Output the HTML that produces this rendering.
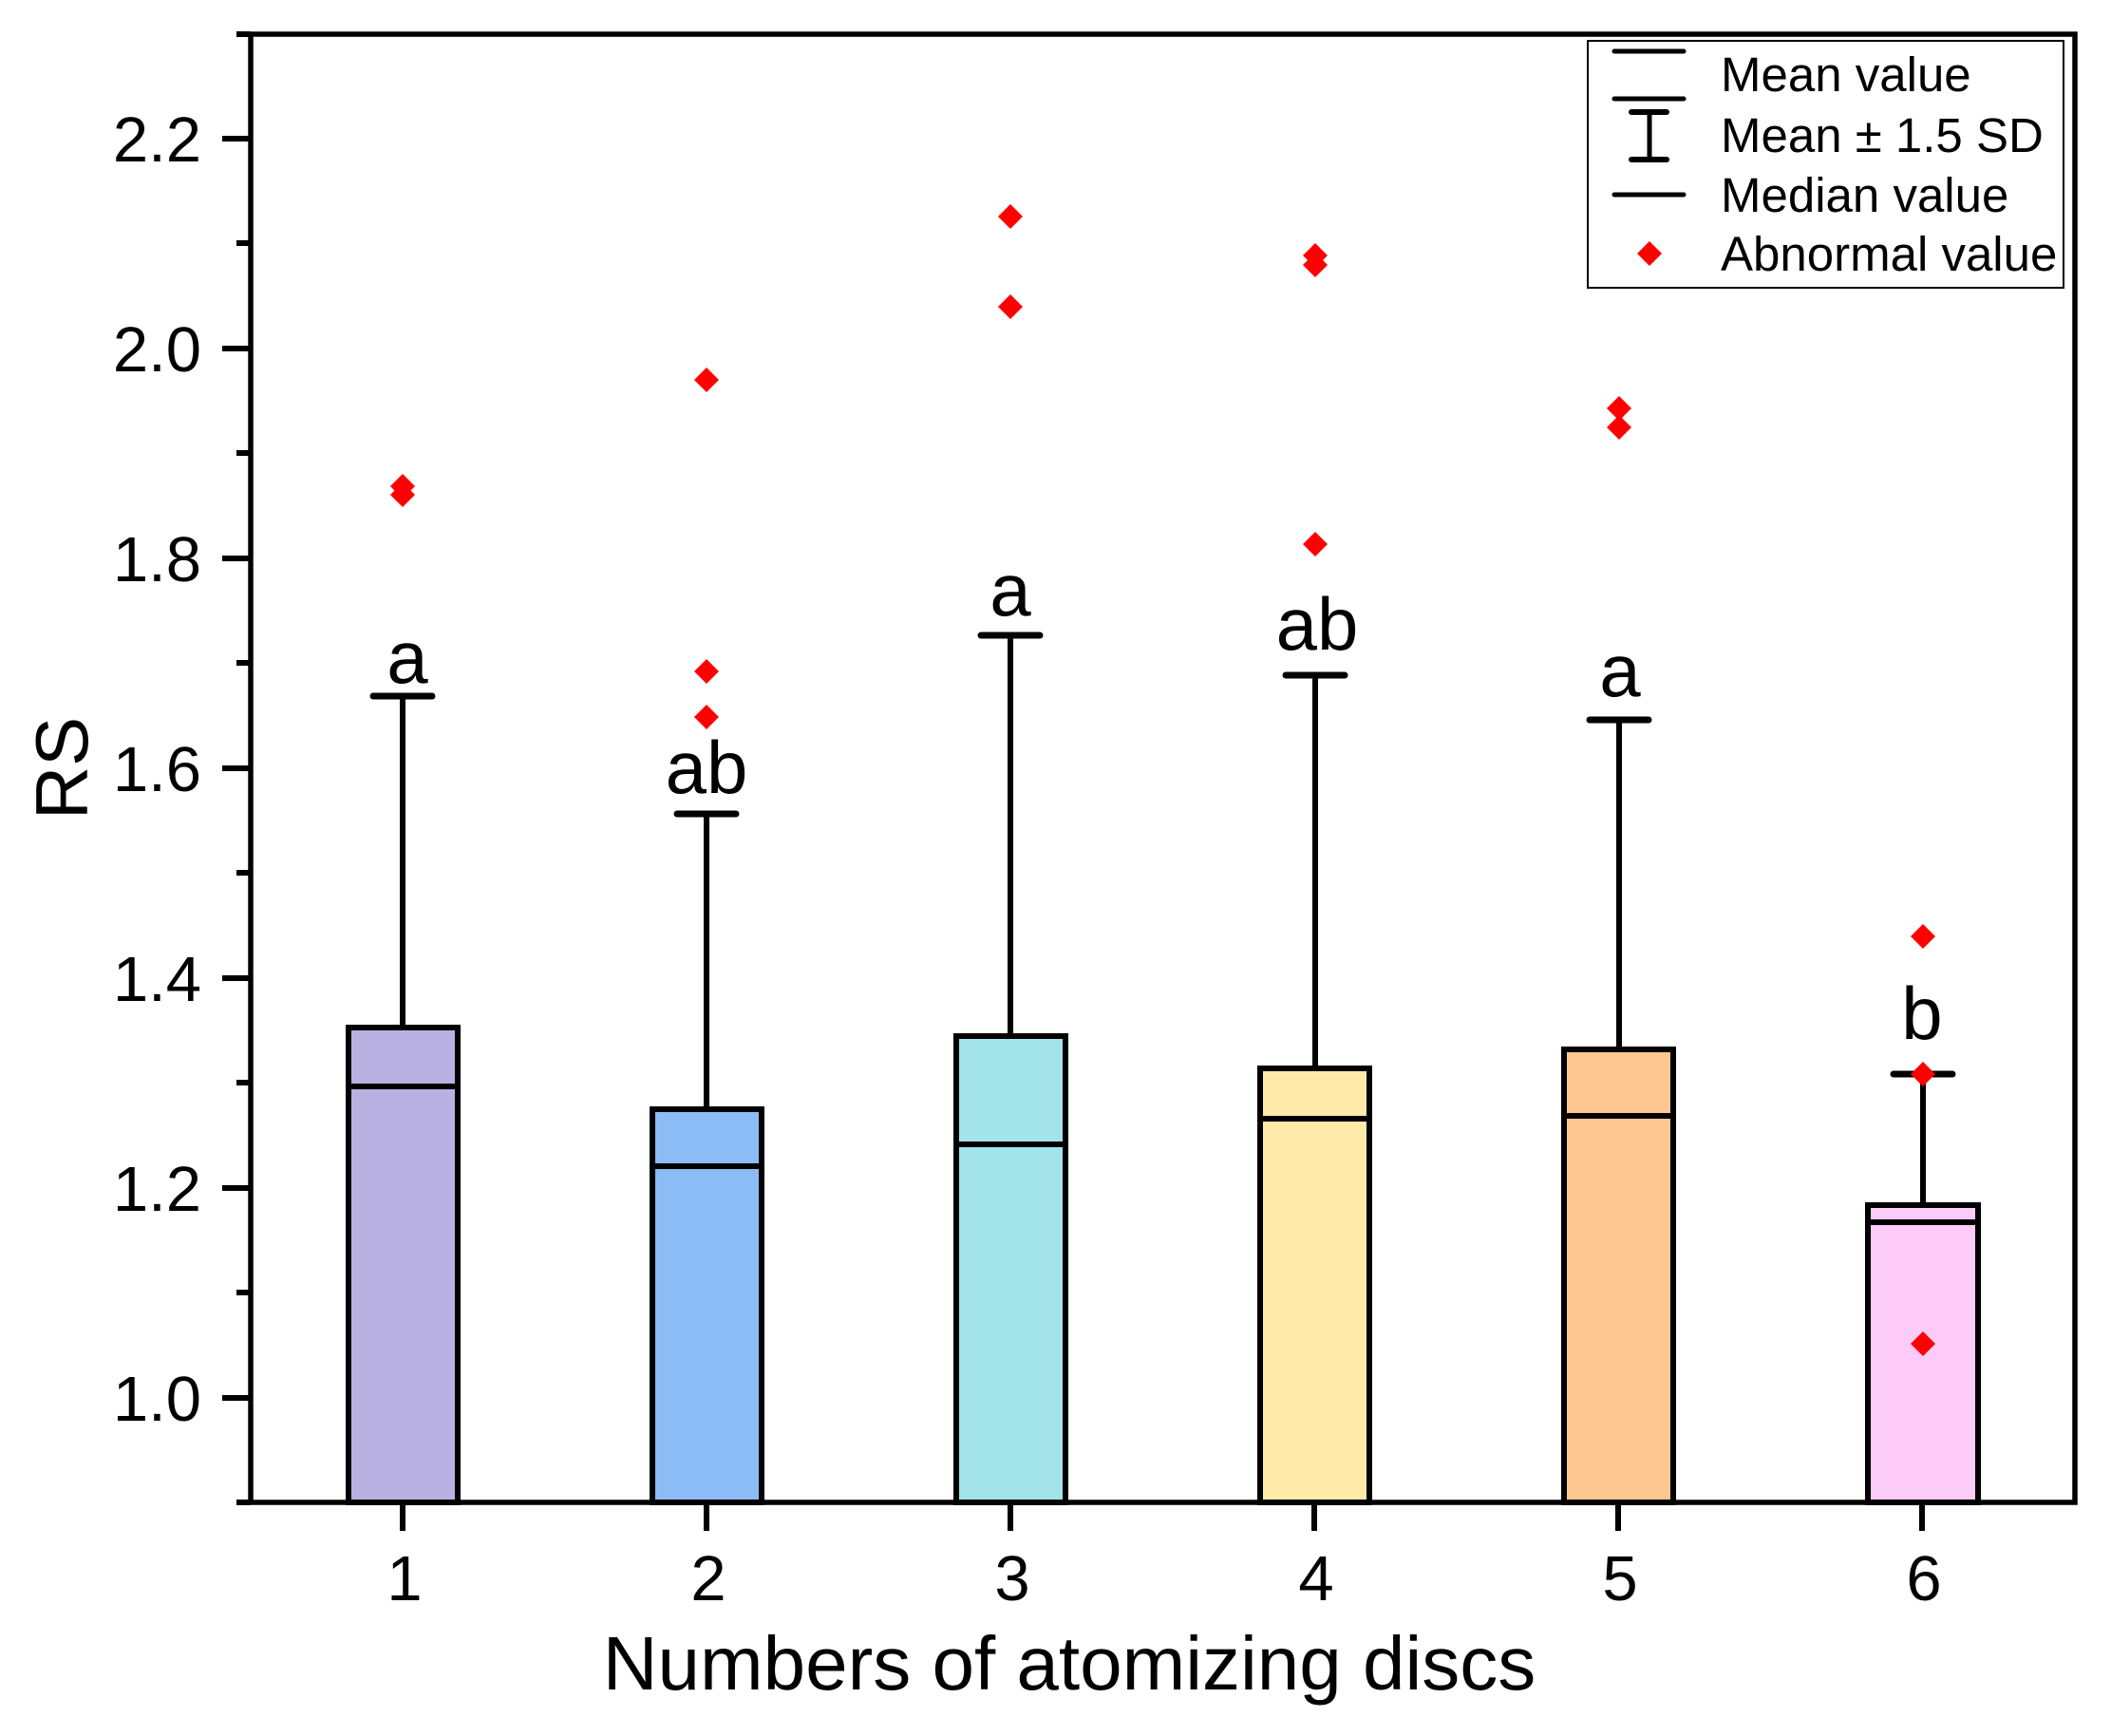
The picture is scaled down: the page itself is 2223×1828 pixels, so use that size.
<!DOCTYPE html>
<html><head><meta charset="utf-8"><style>
html,body{margin:0;padding:0;background:#fff;}
svg{display:block;}
text{font-family:"Liberation Sans",Arial,sans-serif;fill:#000;}
</style></head><body>
<svg width="2223" height="1828" viewBox="0 0 2223 1828" xmlns="http://www.w3.org/2000/svg">
<rect width="2223" height="1828" fill="#fff"/>
<g stroke="#000" stroke-width="6" fill="none">
<g>
<line x1="424" y1="733" x2="424" y2="1082"/><line x1="393" y1="733" x2="455" y2="733" stroke-width="7" stroke-linecap="round"/>
<rect x="367" y="1082" width="115" height="500" fill="#b8b1e1"/><line x1="367" y1="1144" x2="482" y2="1144"/>
<line x1="744" y1="857" x2="744" y2="1168"/><line x1="713" y1="857" x2="775" y2="857" stroke-width="7" stroke-linecap="round"/>
<rect x="687" y="1168" width="115" height="414" fill="#8bbcf5"/><line x1="687" y1="1228" x2="802" y2="1228"/>
<line x1="1064" y1="669" x2="1064" y2="1091"/><line x1="1033" y1="669" x2="1095" y2="669" stroke-width="7" stroke-linecap="round"/>
<rect x="1007" y="1091" width="115" height="491" fill="#a2e4ea"/><line x1="1007" y1="1205" x2="1122" y2="1205"/>
<line x1="1385" y1="711" x2="1385" y2="1125"/><line x1="1354" y1="711" x2="1416" y2="711" stroke-width="7" stroke-linecap="round"/>
<rect x="1327" y="1125" width="115" height="457" fill="#ffeaa9"/><line x1="1327" y1="1178" x2="1442" y2="1178"/>
<line x1="1705" y1="758" x2="1705" y2="1105"/><line x1="1674" y1="758" x2="1736" y2="758" stroke-width="7" stroke-linecap="round"/>
<rect x="1647" y="1105" width="115" height="477" fill="#fdc691"/><line x1="1647" y1="1175" x2="1762" y2="1175"/>
<line x1="2025" y1="1131" x2="2025" y2="1269"/><line x1="1994" y1="1131" x2="2056" y2="1131" stroke-width="7" stroke-linecap="round"/>
<rect x="1967" y="1269" width="116" height="313" fill="#fccbf7"/><line x1="1967" y1="1287" x2="2083" y2="1287"/>
</g>
<rect x="264" y="36" width="1921" height="1546" stroke-width="5.5"/>
<g>
<line x1="234" y1="146" x2="264" y2="146"/><line x1="249" y1="256" x2="264" y2="256"/>
<line x1="234" y1="367" x2="264" y2="367"/><line x1="249" y1="477" x2="264" y2="477"/>
<line x1="234" y1="588" x2="264" y2="588"/><line x1="249" y1="698" x2="264" y2="698"/>
<line x1="234" y1="809" x2="264" y2="809"/><line x1="249" y1="919" x2="264" y2="919"/>
<line x1="234" y1="1030" x2="264" y2="1030"/><line x1="249" y1="1140" x2="264" y2="1140"/>
<line x1="234" y1="1251" x2="264" y2="1251"/><line x1="249" y1="1361" x2="264" y2="1361"/>
<line x1="234" y1="1472" x2="264" y2="1472"/>
<line x1="249" y1="36" x2="264" y2="36"/><line x1="249" y1="1582" x2="264" y2="1582"/>
</g>
<g>
<line x1="424" y1="1582" x2="424" y2="1612"/><line x1="744" y1="1582" x2="744" y2="1612"/>
<line x1="1064" y1="1582" x2="1064" y2="1612"/><line x1="1384" y1="1582" x2="1384" y2="1612"/>
<line x1="1704" y1="1582" x2="1704" y2="1612"/><line x1="2024" y1="1582" x2="2024" y2="1612"/>
</g>
</g>
<g fill="#ff0000">
<path d="M0,-13 L13,0 L0,13 L-13,0Z" transform="translate(424,512)"/>
<path d="M0,-13 L13,0 L0,13 L-13,0Z" transform="translate(424,521)"/>
<path d="M0,-13 L13,0 L0,13 L-13,0Z" transform="translate(744,400)"/>
<path d="M0,-13 L13,0 L0,13 L-13,0Z" transform="translate(744,707)"/>
<path d="M0,-13 L13,0 L0,13 L-13,0Z" transform="translate(744,755)"/>
<path d="M0,-13 L13,0 L0,13 L-13,0Z" transform="translate(1064,228)"/>
<path d="M0,-13 L13,0 L0,13 L-13,0Z" transform="translate(1064,323)"/>
<path d="M0,-13 L13,0 L0,13 L-13,0Z" transform="translate(1385,269)"/>
<path d="M0,-13 L13,0 L0,13 L-13,0Z" transform="translate(1385,279)"/>
<path d="M0,-13 L13,0 L0,13 L-13,0Z" transform="translate(1385,573)"/>
<path d="M0,-13 L13,0 L0,13 L-13,0Z" transform="translate(1705,430)"/>
<path d="M0,-13 L13,0 L0,13 L-13,0Z" transform="translate(1705,450)"/>
<path d="M0,-13 L13,0 L0,13 L-13,0Z" transform="translate(2025,986)"/>
<path d="M0,-13 L13,0 L0,13 L-13,0Z" transform="translate(2025,1131)"/>
<path d="M0,-13 L13,0 L0,13 L-13,0Z" transform="translate(2025,1415)"/>
</g>
<g font-size="67" text-anchor="end">
<text x="212" y="170">2.2</text><text x="212" y="391">2.0</text><text x="212" y="612">1.8</text>
<text x="212" y="833">1.6</text><text x="212" y="1054">1.4</text><text x="212" y="1275">1.2</text>
<text x="212" y="1496">1.0</text>
</g>
<g font-size="67" text-anchor="middle">
<text x="426" y="1685">1</text><text x="746" y="1685">2</text><text x="1066" y="1685">3</text>
<text x="1386" y="1685">4</text><text x="1706" y="1685">5</text><text x="2026" y="1685">6</text>
</g>
<text x="1126" y="1779" font-size="80" text-anchor="middle">Numbers of atomizing discs</text>
<text x="0" y="0" font-size="78" text-anchor="middle" transform="translate(92,809) rotate(-90)">RS</text>
<g font-size="78" text-anchor="middle">
<text x="429" y="719">a</text><text x="744" y="835">ab</text><text x="1064" y="648">a</text>
<text x="1387" y="684">ab</text><text x="1706" y="733">a</text><text x="2024" y="1094">b</text>
</g>
<rect x="1672" y="43" width="501" height="260" fill="#fff" stroke="#000" stroke-width="2"/>
<g stroke="#000" stroke-linecap="round">
<line x1="1700" y1="54" x2="1773" y2="54" stroke-width="5"/>
<line x1="1700" y1="104" x2="1773" y2="104" stroke-width="5"/>
<line x1="1718" y1="118" x2="1755" y2="118" stroke-width="6"/>
<line x1="1737" y1="118" x2="1737" y2="168" stroke-width="5"/>
<line x1="1718" y1="168" x2="1755" y2="168" stroke-width="6"/>
<line x1="1700" y1="205" x2="1773" y2="205" stroke-width="5"/>
</g>
<path d="M0,-13 L13,0 L0,13 L-13,0Z" transform="translate(1737,267)" fill="#ff0000"/>
<g font-size="51">
<text x="1812" y="96">Mean value</text>
<text x="1812" y="160">Mean ± 1.5 SD</text>
<text x="1812" y="223">Median value</text>
<text x="1812" y="285">Abnormal value</text>
</g>
</svg>
</body></html>
